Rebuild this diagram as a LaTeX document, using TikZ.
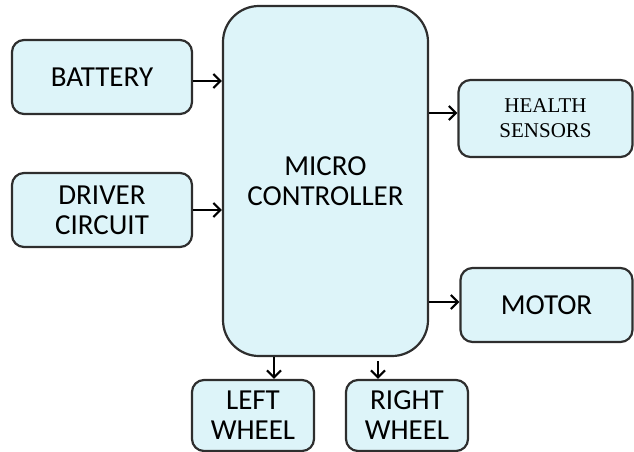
\documentclass[tikz,border=0pt]{standalone}
\usepackage{fontspec}
\setmainfont{Carlito}
\newfontfamily\hsfont{Liberation Serif}
\usetikzlibrary{arrows.meta}
\definecolor{boxfill}{HTML}{DDF4F9}
\definecolor{boxline}{HTML}{2E2E2E}
\begin{document}
\begin{tikzpicture}[x=1pt,y=-1pt,
  blk/.style={draw=boxline, line width=2.2pt, fill=boxfill, rounded corners=12pt,
    align=center, inner sep=0pt, text=black,
    font=\fontsize{29}{30}\selectfont},
  arr/.style={line width=2.6pt, -{Straight Barb[length=7pt,width=14pt,line width=2.2pt]}}]
\useasboundingbox (0,0) rectangle (634,452);
\node[blk, minimum width=180pt, minimum height=74pt] (bat) at (102,77) {BATTERY};
\node[blk, minimum width=180pt, minimum height=74pt] (drv) at (102,210) {DRIVER\\CIRCUIT};
\node[blk, rounded corners=36pt, minimum width=205pt, minimum height=350pt] (mc) at (325.5,181) {MICRO\\CONTROLLER};
\node[blk, minimum width=174pt, minimum height=77pt, font=\hsfont\fontsize{21}{25}\selectfont] (hs) at (545.5,118.5) {HEALTH\\SENSORS};
\node[blk, minimum width=172pt, minimum height=74pt] (mot) at (546.5,305) {MOTOR};
\node[blk, minimum width=122pt, minimum height=71pt] (lw) at (253,415.5) {LEFT\\WHEEL};
\node[blk, minimum width=122pt, minimum height=71pt] (rw) at (407,415.5) {RIGHT\\WHEEL};
\coordinate (r1) at (0,81);
\coordinate (r2) at (0,210);
\coordinate (r3) at (0,113);
\coordinate (r4) at (0,302);
\coordinate (c1) at (274,0);
\coordinate (c2) at (378,0);
\draw[arr] (bat.east |- r1) -- (mc.west |- r1);
\draw[arr] (drv.east |- r2) -- (mc.west |- r2);
\draw[arr] (mc.east |- r3) -- (hs.west |- r3);
\draw[arr] (mc.east |- r4) -- (mot.west |- r4);
\draw[arr] (mc.south -| c1) -- (lw.north -| c1);
\draw[arr] (c2 |- mc.south) ++(0,4) -- (rw.north -| c2);
\end{tikzpicture}
\end{document}
